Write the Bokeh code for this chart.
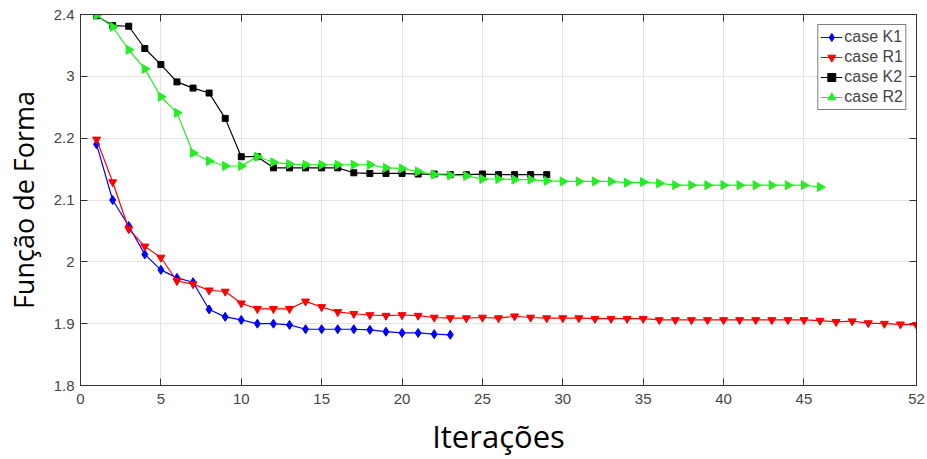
import math
from bokeh.plotting import figure
from bokeh.models import LinearAxis, FixedTicker, Range1d
from bokeh.embed import file_html
from bokeh.resources import INLINE

# ---------------- data ----------------
k1_x = list(range(1, 24))
k1_y = [2.190, 2.100, 2.058, 2.012, 1.987, 1.974, 1.967, 1.923, 1.911, 1.906,
        1.900, 1.900, 1.898, 1.891, 1.891, 1.891, 1.891, 1.890, 1.887, 1.885,
        1.885, 1.883, 1.882]

r1_x = list(range(1, 53))
r1_y = [2.198, 2.129, 2.053, 2.025, 2.007, 1.969, 1.964, 1.954, 1.952, 1.933,
        1.924, 1.924, 1.924, 1.936, 1.927, 1.919, 1.916, 1.914, 1.913, 1.914,
        1.913, 1.910, 1.909, 1.909, 1.910, 1.909, 1.912, 1.910, 1.909, 1.909,
        1.909, 1.908, 1.908, 1.908, 1.908, 1.906, 1.906, 1.906, 1.906, 1.906,
        1.906, 1.906, 1.906, 1.906, 1.906, 1.905, 1.903, 1.904, 1.901, 1.900,
        1.899, 1.898]

k2_x = list(range(1, 30))
k2_y = [2.398, 2.382, 2.381, 2.345, 2.319, 2.291, 2.281, 2.273, 2.232, 2.170,
        2.170, 2.152, 2.152, 2.152, 2.152, 2.152, 2.144, 2.143, 2.143, 2.143,
        2.142, 2.142, 2.141, 2.141, 2.142, 2.141, 2.141, 2.141, 2.141]

r2_x = list(range(1, 47))
r2_y = [2.399, 2.380, 2.343, 2.312, 2.267, 2.241, 2.176, 2.163, 2.155, 2.155,
        2.170, 2.161, 2.158, 2.157, 2.157, 2.157, 2.157, 2.157, 2.152, 2.151,
        2.146, 2.141, 2.140, 2.139, 2.134, 2.134, 2.133, 2.133, 2.131, 2.130,
        2.130, 2.130, 2.130, 2.128, 2.129, 2.127, 2.124, 2.124, 2.124, 2.124,
        2.124, 2.124, 2.124, 2.124, 2.124, 2.121]

x_ticks = [0, 5, 10, 15, 20, 25, 30, 35, 40, 45, 52]
y_ticks = [1.8, 1.9, 2.0, 2.1, 2.2, 2.3, 2.4]
y_tick_labels = ["1.8", "1.9", "2", "2.1", "2.2", "3", "2.4"]

series_labels = ["case K1", "case R1", "case K2", "case R2"]

# ---------------- figure ----------------
p = figure(width=927, height=459, output_backend="svg", toolbar_location=None,
           x_range=Range1d(0, 52), y_range=Range1d(1.8, 2.4),
           min_border_left=80, min_border_right=11, min_border_top=14,
           min_border_bottom=73, background_fill_color="white",
           border_fill_color="white", outline_line_color="#333333")

axis_col = "#333333"
tick_col = "#454545"

p.xaxis.ticker = FixedTicker(ticks=x_ticks)
p.yaxis.ticker = FixedTicker(ticks=y_ticks)
p.yaxis.major_label_overrides = {t: l for t, l in zip(y_ticks, y_tick_labels)}

for ax in (p.xaxis[0], p.yaxis[0]):
    ax.axis_line_color = axis_col
    ax.major_tick_line_color = axis_col
    ax.major_tick_in = 7
    ax.major_tick_out = 0
    ax.minor_tick_line_color = None
    ax.major_label_text_font = "Liberation Sans"
    ax.major_label_text_font_size = "15px"
    ax.major_label_text_color = tick_col
    ax.axis_label_text_font = "Open Sans"
    ax.axis_label_text_font_style = "normal"
    ax.axis_label_text_color = "black"

p.xaxis.axis_label = "Iterações"
p.yaxis.axis_label = "Função de Forma"
p.xaxis.axis_label_text_font_size = "31px"
p.yaxis.axis_label_text_font_size = "27px"
p.xaxis.major_label_standoff = 8
p.yaxis.major_label_standoff = 6
p.xaxis.axis_label_standoff = 8
p.yaxis.axis_label_standoff = 9

# mirrored box ticks (top & right)
top = LinearAxis(ticker=FixedTicker(ticks=x_ticks), major_label_text_font_size="0px",
                 axis_line_color=axis_col, major_tick_line_color=axis_col,
                 major_tick_in=7, major_tick_out=0, minor_tick_line_color=None)
right = LinearAxis(ticker=FixedTicker(ticks=y_ticks), major_label_text_font_size="0px",
                   axis_line_color=axis_col, major_tick_line_color=axis_col,
                   major_tick_in=7, major_tick_out=0, minor_tick_line_color=None)
p.add_layout(top, "above")
p.add_layout(right, "right")

p.xgrid.grid_line_color = "#e3e3e3"
p.ygrid.grid_line_color = "#e3e3e3"
p.xgrid.ticker = FixedTicker(ticks=x_ticks)
p.ygrid.ticker = FixedTicker(ticks=y_ticks)

# ---------------- series ----------------
blue, red, black, green = "#0000ff", "#ff0000", "#000000", "#22ee22"

p.line(k1_x, k1_y, color=blue, line_width=1.2, legend_label=series_labels[0])
p.scatter(k1_x, k1_y, marker="diamond", size=9, color=blue, legend_label=series_labels[0])

p.line(r1_x, r1_y, color=red, line_width=1.2, legend_label=series_labels[1])
p.scatter(r1_x, r1_y, marker="inverted_triangle", size=8, color=red, legend_label=series_labels[1])

p.line(k2_x, k2_y, color=black, line_width=1.2, legend_label=series_labels[2])
p.scatter(k2_x, k2_y, marker="square", size=6, color=black, legend_label=series_labels[2])

p.line(r2_x, r2_y, color=green, line_width=1.2, legend_label=series_labels[3])
p.scatter(r2_x, r2_y, marker="triangle", size=9, angle=-math.pi / 2, color=green,
          legend_label=series_labels[3])

# ---------------- legend ----------------
lg = p.legend[0]
lg.location = "top_right"
lg.margin = 10
lg.padding = 2
lg.spacing = 0
lg.label_text_font = "Liberation Sans"
lg.label_text_font_size = "16px"
lg.label_height = 20
lg.glyph_height = 20
lg.glyph_width = 22
lg.label_standoff = 2
lg.border_line_color = "black"
lg.border_line_width = 1
lg.background_fill_alpha = 1.0

open("out.html", "w").write(file_html(p, INLINE))
